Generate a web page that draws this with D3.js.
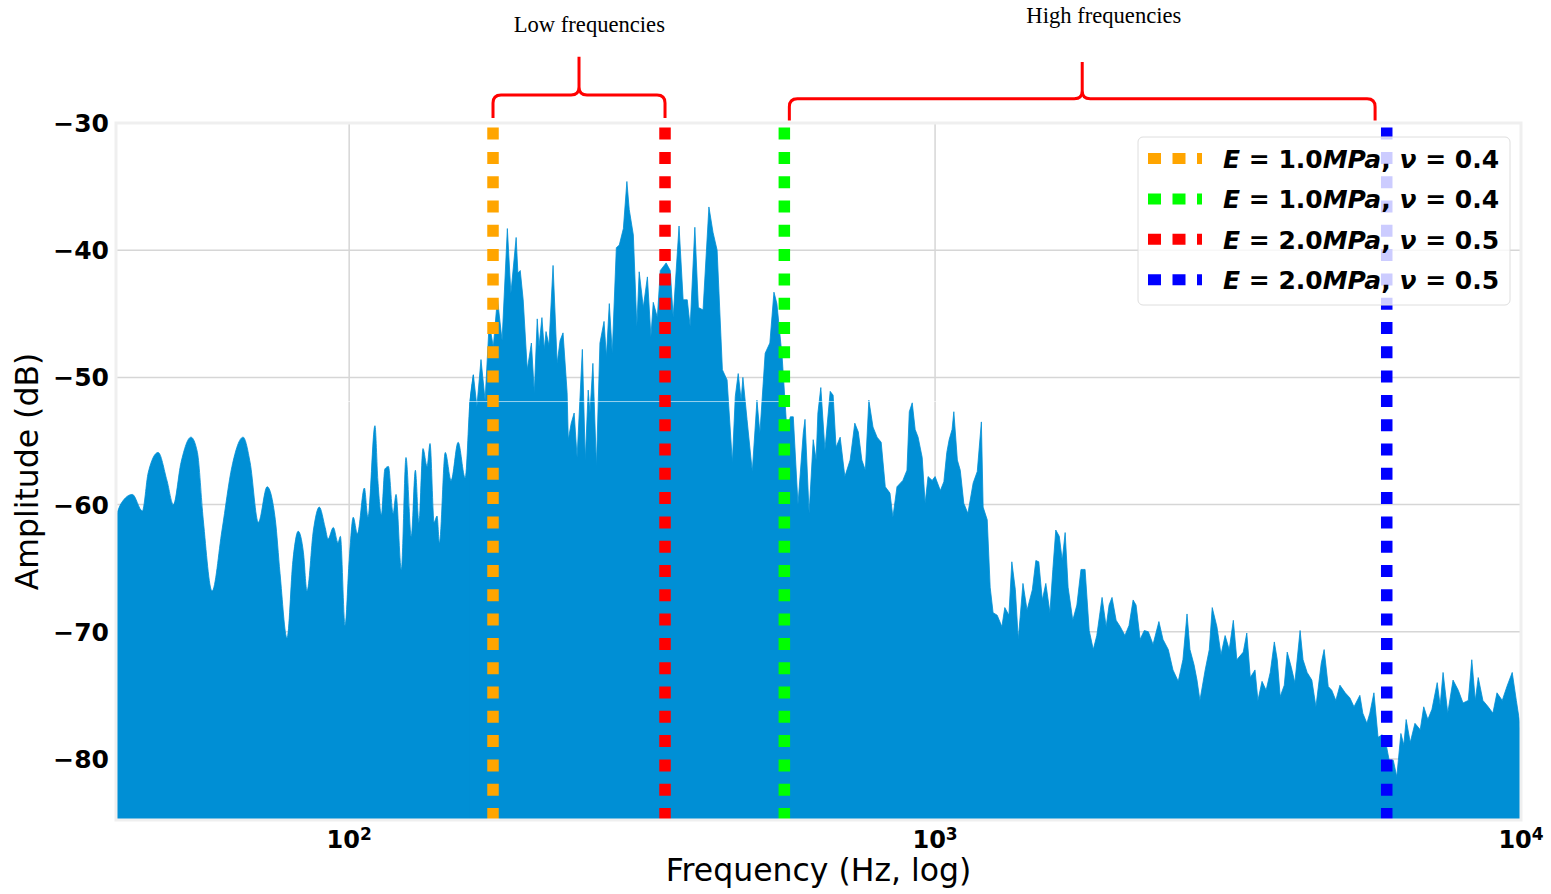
<!DOCTYPE html>
<html>
<head>
<meta charset="utf-8">
<script src="https://cdn.jsdelivr.net/npm/d3@7"></script>
<style>
  body { margin: 0; background: #fff; }
  svg { display: block; font-family: "DejaVu Sans", sans-serif; }
</style>
</head>
<body>
<script>
// spectrum, as [log10(frequency in Hz), amplitude in dB]
const bandA = [[1.602,-60.9],[1.611,-59.9],[1.630,-59.2],[1.647,-60.5],[1.657,-57.5],[1.674,-55.9],[1.689,-58.1],[1.700,-60.0],[1.713,-56.7],[1.730,-54.7],[1.741,-55.9],[1.751,-61.2],[1.766,-66.8],[1.783,-62.0],[1.800,-57.0],[1.819,-54.7],[1.831,-56.7],[1.845,-61.4],[1.860,-58.6],[1.874,-61.2],[1.882,-65.4],[1.894,-70.5],[1.904,-64.4],[1.913,-62.1],[1.922,-63.8],[1.928,-66.8],[1.939,-62.0],[1.949,-60.2],[1.959,-61.8],[1.964,-62.7],[1.973,-61.8],[1.981,-63.0],[1.985,-62.5],[1.993,-69.5],[2.000,-64.4],[2.007,-61.0],[2.014,-62.3],[2.026,-58.7],[2.032,-61.0],[2.044,-53.8],[2.049,-58.1],[2.055,-60.8],[2.061,-57.2],[2.067,-57.0],[2.075,-60.7],[2.080,-59.2],[2.089,-65.1],[2.097,-56.3],[2.106,-62.5],[2.113,-57.3],[2.119,-61.4],[2.126,-55.6],[2.133,-57.0],[2.138,-55.2],[2.145,-61.4],[2.150,-60.9],[2.154,-63.0],[2.164,-55.9],[2.174,-58.1],[2.186,-55.1],[2.198,-57.9],[2.206,-52.0]]
const bandB = [[2.212,-49.8],[2.218,-52.3],[2.225,-48.6],[2.232,-51.8],[2.239,-45.7],[2.246,-47.6],[2.253,-43.8],[2.261,-47.1],[2.270,-38.3],[2.276,-43.4],[2.285,-39.0],[2.288,-41.8],[2.292,-41.6],[2.297,-43.9],[2.304,-49.4],[2.311,-47.3],[2.316,-51.2],[2.321,-45.4],[2.324,-47.6],[2.329,-45.3],[2.333,-47.8],[2.336,-46.4],[2.341,-47.5],[2.348,-41.2],[2.355,-48.9],[2.360,-47.1],[2.365,-46.5],[2.372,-51.2],[2.374,-54.9],[2.379,-53.6],[2.384,-52.8],[2.389,-56.3],[2.398,-47.8],[2.403,-56.5],[2.408,-51.0],[2.411,-52.8],[2.416,-48.9],[2.422,-57.0],[2.428,-47.3],[2.435,-45.6],[2.439,-48.4],[2.444,-44.2],[2.449,-48.1],[2.456,-39.8],[2.461,-39.6],[2.468,-38.3],[2.474,-34.6],[2.478,-36.8],[2.485,-38.8],[2.491,-46.0],[2.495,-41.7],[2.502,-44.5],[2.509,-42.1],[2.515,-46.8],[2.519,-44.1],[2.526,-45.3],[2.531,-41.6],[2.541,-41.0],[2.548,-41.6],[2.553,-45.3],[2.563,-38.1],[2.570,-43.9],[2.577,-43.9],[2.582,-46.0],[2.590,-38.2],[2.596,-44.5],[2.604,-44.7],[2.614,-36.6],[2.621,-38.6],[2.628,-40.0],[2.637,-49.4],[2.645,-50.2],[2.654,-56.7],[2.659,-51.5],[2.664,-49.7],[2.669,-51.8],[2.672,-50.0],[2.679,-53.3],[2.688,-57.4],[2.696,-51.8],[2.701,-54.4],[2.710,-48.1],[2.718,-47.3],[2.725,-43.3],[2.730,-44.2],[2.739,-48.4],[2.747,-54.1]]
const bandC = [[2.753,-53.1],[2.758,-53.1],[2.766,-60.0],[2.775,-54.4],[2.778,-53.3],[2.785,-60.7],[2.792,-54.9],[2.797,-56.5],[2.800,-52.8],[2.805,-50.8],[2.812,-55.7],[2.821,-51.1],[2.826,-51.4],[2.831,-55.5],[2.838,-54.7],[2.846,-57.8],[2.855,-56.5],[2.863,-53.6],[2.869,-54.3],[2.875,-56.5],[2.881,-57.3],[2.887,-51.8],[2.894,-53.9],[2.901,-54.7],[2.908,-55.1],[2.915,-58.6],[2.923,-59.1],[2.928,-61.0],[2.935,-58.6],[2.945,-58.1],[2.952,-57.3],[2.956,-52.7],[2.961,-52.0],[2.966,-54.1],[2.971,-54.7],[2.978,-56.3],[2.983,-59.9],[2.988,-57.8],[2.995,-58.1],[3.000,-57.8],[3.009,-58.9],[3.015,-58.2],[3.020,-55.9],[3.024,-54.9],[3.029,-54.1],[3.032,-52.7],[3.038,-56.5],[3.043,-57.3],[3.049,-59.9],[3.056,-60.7],[3.065,-58.3],[3.072,-57.4],[3.079,-53.5],[3.082,-60.2],[3.089,-61.2]]
const bandD = [[3.094,-66.5],[3.099,-68.5],[3.106,-68.7],[3.114,-69.6],[3.119,-68.1],[3.126,-68.7],[3.131,-64.5],[3.137,-66.7],[3.142,-70.6],[3.150,-66.2],[3.157,-68.3],[3.166,-66.7],[3.172,-64.4],[3.177,-64.5],[3.183,-67.5],[3.189,-66.2],[3.196,-68.5],[3.201,-65.1],[3.206,-62.0],[3.212,-62.5],[3.217,-64.4],[3.222,-62.2],[3.227,-66.5],[3.235,-69.1],[3.242,-67.9],[3.249,-65.1],[3.256,-65.1],[3.263,-69.9],[3.270,-71.4],[3.276,-70.3],[3.285,-67.3],[3.292,-69.6],[3.297,-67.9],[3.302,-67.3],[3.309,-69.1],[3.316,-69.6],[3.324,-70.3],[3.331,-69.5],[3.338,-67.5],[3.343,-67.9],[3.350,-70.6],[3.357,-69.9],[3.364,-70.0],[3.372,-71.0],[3.382,-69.2],[3.389,-70.6],[3.398,-71.4],[3.406,-73.0],[3.415,-73.9],[3.423,-72.2],[3.430,-68.6],[3.435,-71.4],[3.442,-72.6],[3.447,-73.8],[3.452,-75.4],[3.461,-73.0],[3.468,-71.4],[3.473,-68.1],[3.481,-69.6],[3.488,-71.8],[3.495,-70.3],[3.502,-71.4],[3.509,-69.1],[3.515,-72.2],[3.526,-71.6],[3.532,-70.1],[3.538,-73.6],[3.546,-73.0],[3.551,-75.4]]
const bandE = [[3.558,-73.9],[3.565,-74.6],[3.572,-73.2],[3.579,-70.8],[3.584,-72.2],[3.589,-75.1],[3.596,-74.2],[3.601,-71.6],[3.608,-72.8],[3.614,-74.0],[3.623,-69.9],[3.628,-72.2],[3.635,-73.2],[3.643,-73.8],[3.650,-75.9],[3.659,-72.5],[3.664,-71.4],[3.671,-74.3],[3.677,-74.6],[3.684,-75.4],[3.691,-74.2],[3.700,-74.8],[3.708,-75.2],[3.715,-75.9],[3.725,-75.0],[3.730,-76.4],[3.737,-77.2],[3.742,-76.4],[3.749,-74.8],[3.756,-78.3],[3.763,-78.1],[3.770,-78.9],[3.775,-80.1],[3.782,-80.1],[3.788,-81.4],[3.795,-78.0],[3.800,-78.9],[3.804,-76.9],[3.811,-78.7],[3.819,-77.2],[3.828,-77.7],[3.834,-75.9],[3.841,-76.9],[3.848,-76.1],[3.857,-74.0],[3.862,-75.8],[3.867,-73.2],[3.875,-76.4],[3.884,-73.8],[3.893,-74.6],[3.901,-75.6],[3.910,-75.4],[3.916,-72.2],[3.922,-75.4],[3.927,-73.6],[3.935,-75.4],[3.944,-75.9],[3.952,-76.4],[3.959,-74.8],[3.968,-75.4],[3.976,-74.3],[3.985,-73.2],[3.992,-75.4],[3.997,-76.9],[4.000,-78.5]]

// vertical markers, in legend order
const markerFreqs = [176, 553, 346, 5900]
const markerColors = ['#ffa500', '#00ff00', '#ff0000', '#0000ff']
const markerE = ['1.0', '1.0', '2.0', '2.0']
const markerNu = ['0.4', '0.4', '0.5', '0.5']

const yTicks = [-80, -70, -60, -50, -40, -30]
const xTicks = [100, 1000, 10000]
const refLevel = -51.9

// brace annotations: [f from, f to, foot dB, bar dB, tip dB]
const lowBrace = [176, 346, -29.6, -27.8, -24.8]
const highBrace = [564, 5636, -29.8, -28.1, -25.2]
const braceLabels = ['Low frequencies', 'High frequencies']
const braceLabelPos = [[257, -22.85], [1941, -22.1]]

const W = 1551, H = 894
const margin = {top: 123, right: 30, bottom: 74, left: 116}

const toPoint = ([lf, db]) => ({f: 10 ** lf, db})
// smooth lobes at low frequency, sharp spikes above
const smoothPart = [...bandA, bandB[0]].map(toPoint)
const spikyPart = [bandA[bandA.length - 1], ...bandB, ...bandC, ...bandD, ...bandE].map(toPoint)

const x = d3.scaleLog().domain([40, 10000]).range([margin.left, W - margin.right])
const y = d3.scaleLinear().domain([-84.8, -30]).range([H - margin.bottom, margin.top])

const svg = d3.select('body').append('svg').attr('width', W).attr('height', H)

svg.append('defs').append('clipPath').attr('id', 'plot')
    .append('rect')
    .attr('x', margin.left).attr('y', margin.top)
    .attr('width', W - margin.right - margin.left)
    .attr('height', H - margin.bottom - margin.top)

// grid below everything
const grid = svg.append('g').attr('stroke', '#d6d6d6').attr('stroke-width', 1.5)
grid.selectAll('.gy').data(yTicks).join('line')
    .attr('x1', x.range()[0]).attr('x2', x.range()[1])
    .attr('y1', d => y(d)).attr('y2', d => y(d))
grid.selectAll('.gx').data(xTicks).join('line')
    .attr('x1', d => x(d)).attr('x2', d => x(d))
    .attr('y1', y.range()[0]).attr('y2', y.range()[1])

const plot = svg.append('g').attr('clip-path', 'url(#plot)')

const areaSmooth = d3.area()
    .x(d => x(d.f)).y0(y.range()[0]).y1(d => y(d.db))
    .curve(d3.curveMonotoneX)
const areaSpiky = d3.area()
    .x(d => x(d.f)).y0(y.range()[0]).y1(d => y(d.db))
    .curve(d3.curveLinear)

plot.append('path').datum(smoothPart)
    .attr('d', areaSmooth)
    .attr('fill', '#008fd5').attr('stroke', '#008fd5').attr('stroke-width', 0.8)
plot.append('path').datum(spikyPart)
    .attr('d', areaSpiky)
    .attr('fill', '#008fd5').attr('stroke', '#008fd5').attr('stroke-width', 0.8)

plot.append('line')
    .attr('x1', x.range()[0]).attr('x2', x.range()[1])
    .attr('y1', y(refLevel)).attr('y2', y(refLevel))
    .attr('stroke', '#fff').attr('stroke-opacity', 0.6).attr('stroke-width', 1)

// dotted markers, drawn from the bottom up
plot.selectAll('.marker').data(markerFreqs).join('line')
    .attr('x1', d => x(d)).attr('x2', d => x(d))
    .attr('y1', y.range()[0]).attr('y2', y.range()[1])
    .attr('stroke', (d, i) => markerColors[i])
    .attr('stroke-width', 11.5)
    .attr('stroke-dasharray', '12,12.3')

// frame
svg.append('rect')
    .attr('x', margin.left).attr('y', margin.top)
    .attr('width', W - margin.right - margin.left)
    .attr('height', H - margin.bottom - margin.top)
    .attr('fill', 'none').attr('stroke', '#efefef').attr('stroke-width', 3)

// tick labels
svg.append('g').selectAll('text').data(yTicks).join('text')
    .attr('x', margin.left - 7)
    .attr('y', d => y(d))
    .attr('dy', '0.36em')
    .attr('text-anchor', 'end')
    .attr('font-weight', 'bold')
    .attr('font-size', 25)
    .text(d => d3.format('d')(d).replace('-', '\u2212'))

const xt = svg.append('g').selectAll('text').data(xTicks).join('text')
    .attr('x', d => x(d))
    .attr('y', y.range()[0] + 27.5)
    .attr('text-anchor', 'middle')
    .attr('font-weight', 'bold')
    .attr('font-size', 24)
xt.append('tspan').text('10')
xt.append('tspan').attr('font-size', 17).attr('dy', -7.5).text(d => Math.round(Math.log10(d)))

// axis titles
svg.append('text')
    .attr('x', (x.range()[0] + x.range()[1]) / 2)
    .attr('y', 881)
    .attr('text-anchor', 'middle')
    .attr('font-size', 31.5)
    .text('Frequency (Hz, log)')

svg.append('text')
    .attr('transform', `translate(38,${(y.range()[0] + y.range()[1]) / 2}) rotate(-90)`)
    .attr('text-anchor', 'middle')
    .attr('font-size', 31.5)
    .text('Amplitude (dB)')

// legend
const legend = svg.append('g')
legend.append('rect')
    .attr('x', 1138).attr('y', 137).attr('width', 372).attr('height', 168)
    .attr('rx', 5)
    .attr('fill', '#fff').attr('fill-opacity', 0.8)
    .attr('stroke', '#dedede').attr('stroke-width', 1)

markerColors.forEach((c, i) => {
    const cy = 158.5 + i * 40.4
    legend.append('line')
        .attr('x1', 1148).attr('x2', 1202)
        .attr('y1', cy).attr('y2', cy)
        .attr('stroke', c).attr('stroke-width', 11)
        .attr('stroke-dasharray', '13,11.5')
    const t = legend.append('text')
        .attr('x', 1223).attr('y', cy + 9.5)
        .attr('font-size', 25).attr('font-weight', 'bold')
        .style('white-space', 'pre')
    t.append('tspan').attr('font-style', 'italic').text('E')
    t.append('tspan').text(' = ' + markerE[i])
    t.append('tspan').attr('font-style', 'italic').text('MPa')
    t.append('tspan').text(', ')
    t.append('tspan').attr('font-style', 'italic').text('\u03bd')
    t.append('tspan').text(' = ' + markerNu[i])
})

// curly braces above the plot
function bracePath([f0, f1, dbFoot, dbBar, dbTip]) {
    const x0 = x(f0), x1 = x(f1), xm = x(Math.sqrt(f0 * f1))
    const yf = y(dbFoot), yb = y(dbBar), yt = y(dbTip), r = 8
    const p = d3.path()
    p.moveTo(x0, yf)
    p.lineTo(x0, yb + r)
    p.quadraticCurveTo(x0, yb, x0 + r, yb)
    p.lineTo(xm - r, yb)
    p.quadraticCurveTo(xm, yb, xm, yb - r)
    p.lineTo(xm, yt)
    p.moveTo(xm, yb - r)
    p.quadraticCurveTo(xm, yb, xm + r, yb)
    p.lineTo(x1 - r, yb)
    p.quadraticCurveTo(x1, yb, x1, yb + r)
    p.lineTo(x1, yf)
    return p.toString()
}

svg.selectAll('.brace').data([lowBrace, highBrace]).join('path')
    .attr('d', bracePath)
    .attr('fill', 'none')
    .attr('stroke', '#ff0000')
    .attr('stroke-width', 3)

svg.selectAll('.braceLabel').data(braceLabels).join('text')
    .attr('x', (d, i) => x(braceLabelPos[i][0]))
    .attr('y', (d, i) => y(braceLabelPos[i][1]))
    .attr('text-anchor', 'middle')
    .attr('font-family', '"Liberation Serif", serif')
    .attr('font-size', 22.6)
    .text(d => d)
</script>
</body>
</html>
